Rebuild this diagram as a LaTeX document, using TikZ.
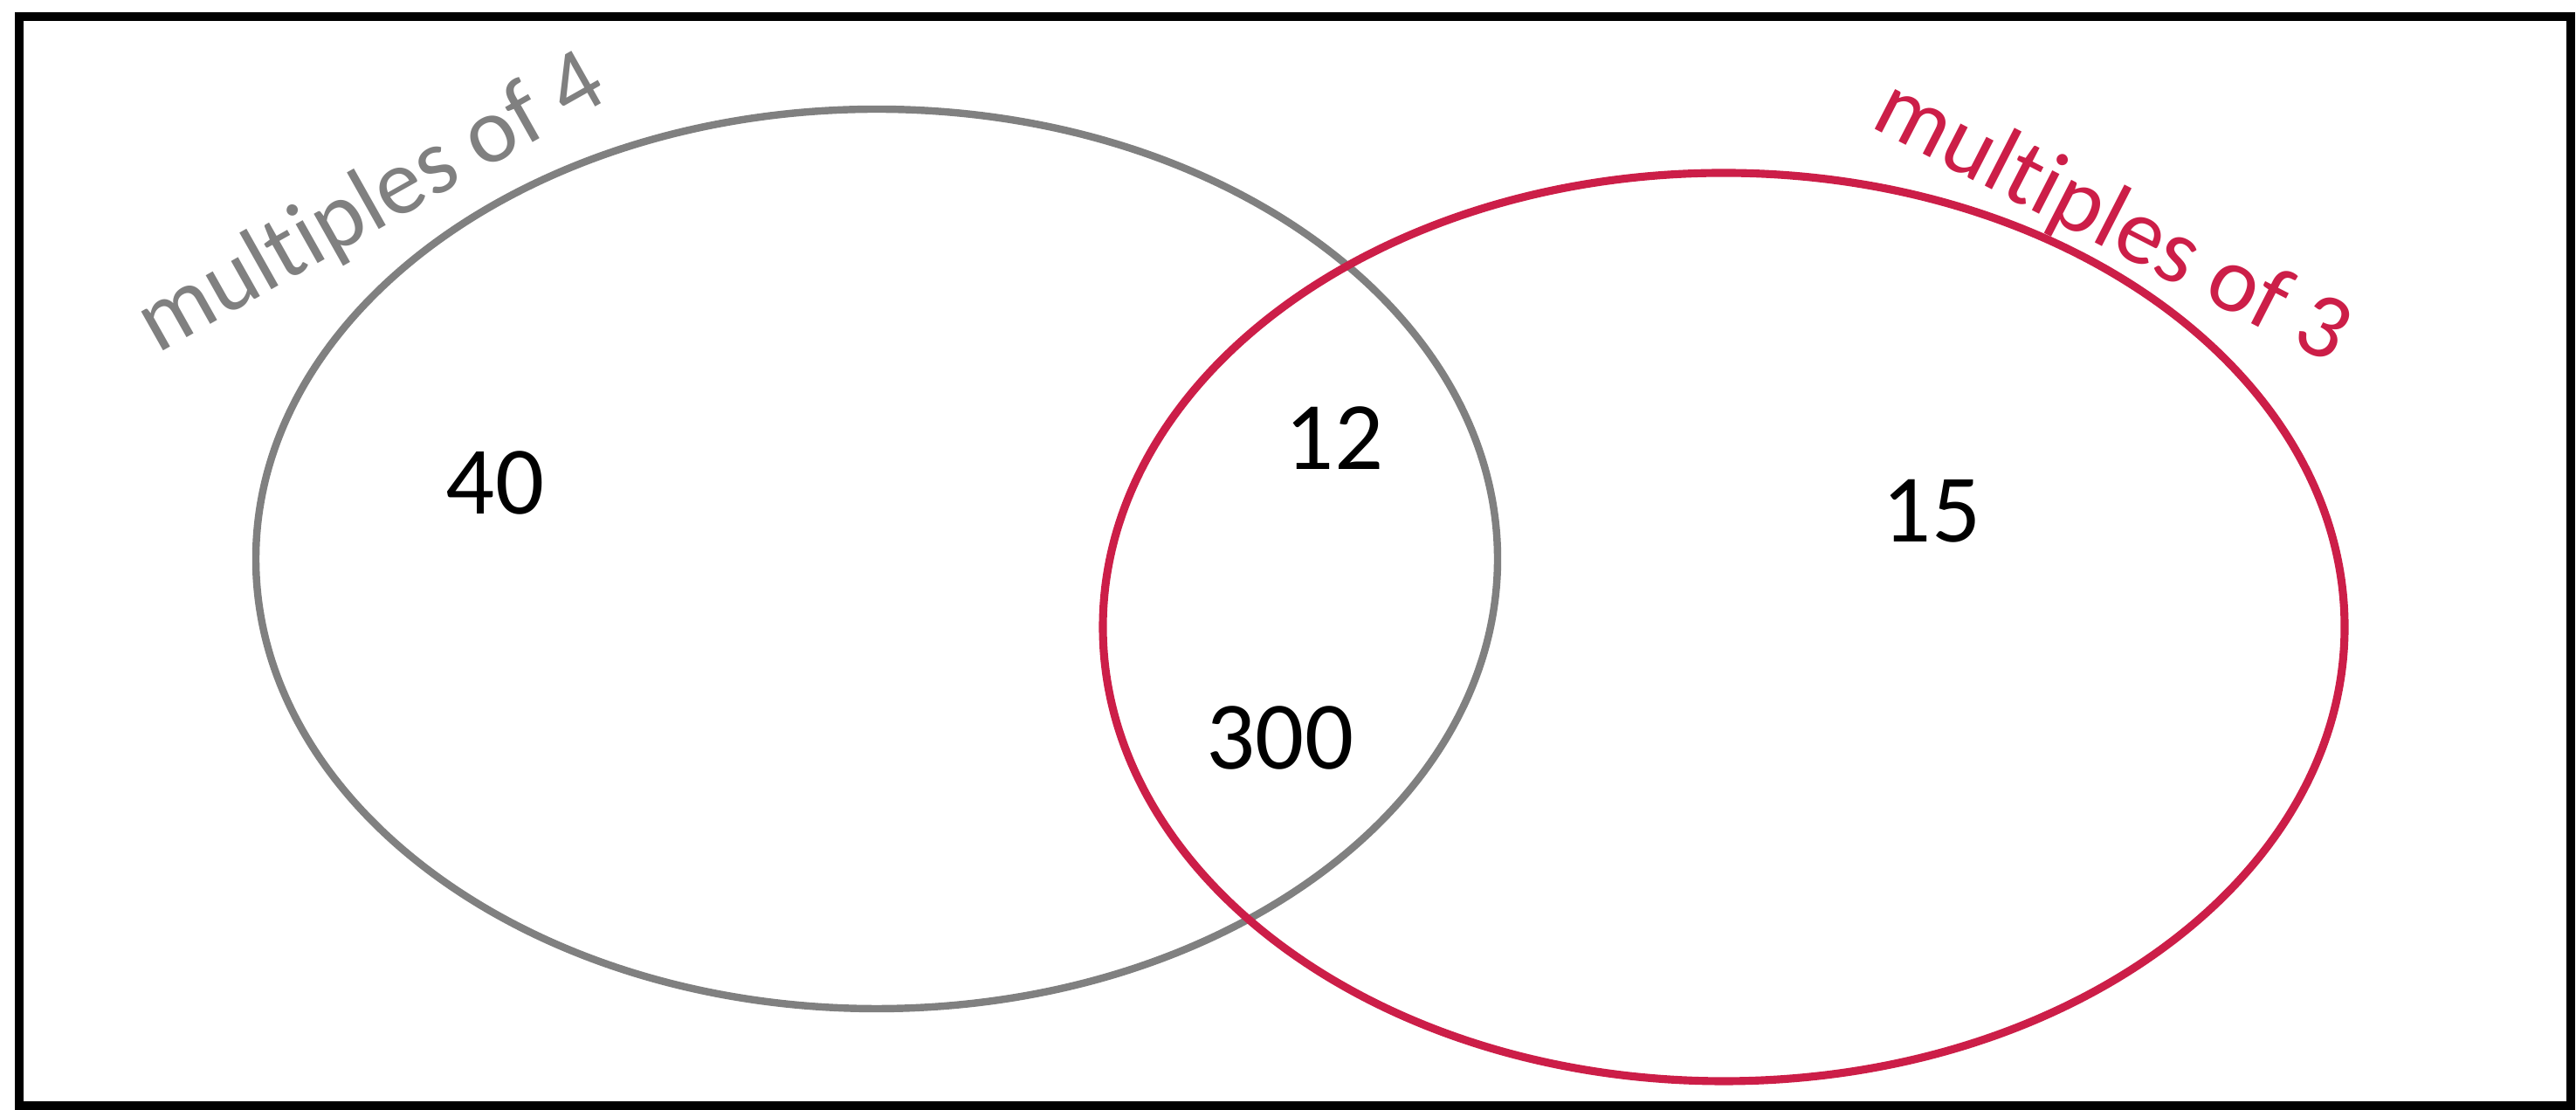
\documentclass[tikz,border=0pt]{standalone}
\usepackage{fontspec}
\setmainfont{Carlito}[Ligatures={NoCommon}]
\definecolor{setgray}{RGB}{128,128,128}
\definecolor{setred}{RGB}{204,30,72}
\tikzset{
  numlabel/.style={font=\fontsize{31.5pt}{36pt}\selectfont, text=black, inner sep=0pt},
  setlabel/.style={font=\fontsize{30.5pt}{34pt}\selectfont, inner sep=0pt, anchor=base},
  frame/.style={draw=black, line width=3.1pt},
}
\begin{document}
\begin{tikzpicture}
\useasboundingbox (0,0) rectangle (29.5,12.71);
\draw[frame] (0.22,0.05) rectangle (29.44,12.52);
% sets
\coordinate (cfour) at (10.04,6.31);
\coordinate (cthree) at (19.74,5.53);
\draw[setgray, line width=2.4pt] (cfour) ellipse [x radius=7.11cm, y radius=5.15cm];
\draw[setred, line width=2.6pt] (cthree) ellipse [x radius=7.11cm, y radius=5.20cm];
% set labels
\node[setlabel, text=setgray, rotate=29.4] (lfour) at (4.40,10.12) {multiples of 4};
\node[setlabel, text=setred, rotate=-27.2] (lthree) at (24.05,9.90) {multiples of 3};
% elements
\node[numlabel] (n40) at (5.67,7.18) {40};
\node[numlabel] (n12) at (15.28,7.69) {12};
\node[numlabel] (n15) at (22.12,6.86) {15};
\node[numlabel] (n300) at (14.66,4.26) {300};
\end{tikzpicture}
\end{document}
